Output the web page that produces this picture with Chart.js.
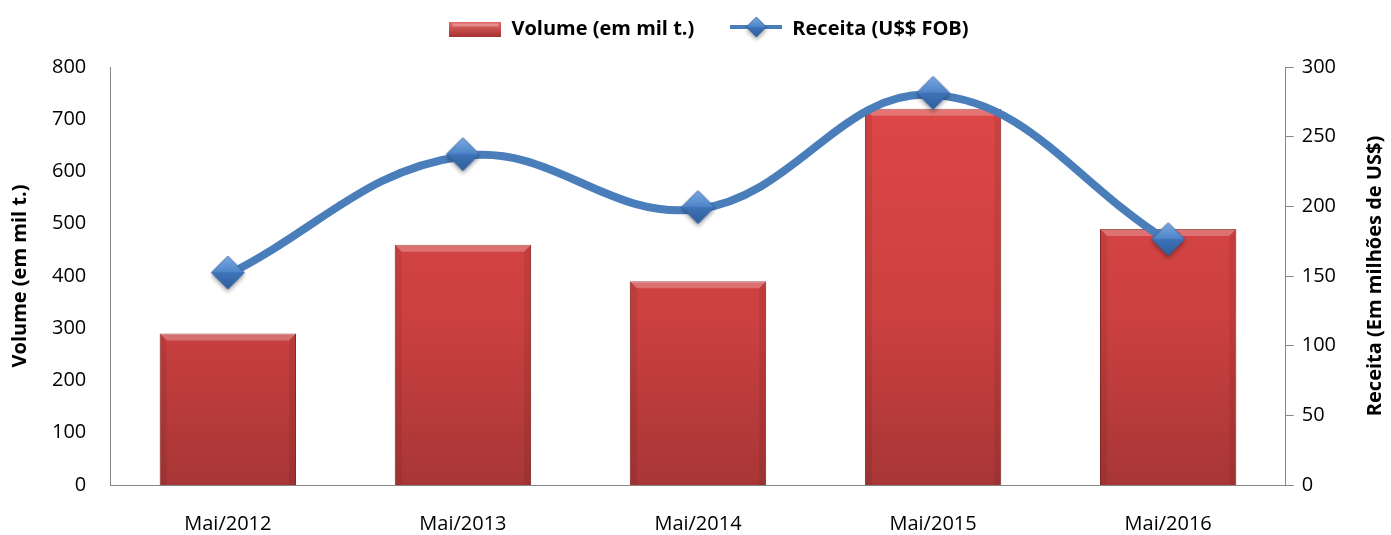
<!DOCTYPE html>
<html>
<head>
<meta charset="utf-8">
<script src="https://cdn.jsdelivr.net/npm/chart.js@4.4.1/dist/chart.umd.min.js"></script>
<style>
  html, body { margin: 0; padding: 0; background: #fff; }
  #wrap { width: 1391px; height: 535px; }
</style>
</head>
<body>
<div id="wrap"><canvas id="volChart"></canvas></div>
<script>
//
// dados do grafico
//
const labels = ["Mai/2012", "Mai/2013", "Mai/2014", "Mai/2015", "Mai/2016"];
const volumeValues = [290, 460, 390, 720, 490];
const receitaValues = [151, 236, 198, 280, 175];

const FONT = "'Open Sans', 'Liberation Sans', sans-serif";
const RIGHT_TITLE = "Receita (Em milhões de US$)";

// diamante com gradiente (marcador e legenda)
function diamond(size, withLine) {
  const w = withLine ? 52 : size + 8, h = size + 8;
  const c = document.createElement("canvas");
  c.width = w; c.height = h;
  const x = c.getContext("2d");
  const cx = w / 2, cy = size / 2 + 2, r = size / 2;
  if (withLine) {
    x.strokeStyle = "#4a7ebb";
    x.lineWidth = 4;
    x.beginPath(); x.moveTo(0, cy); x.lineTo(w, cy); x.stroke();
  }
  x.save();
  x.shadowColor = "rgba(0,0,0,0.35)";
  x.shadowBlur = 4;
  x.shadowOffsetY = 3;
  x.fillStyle = "#3d72b4";
  x.beginPath(); x.moveTo(cx, cy - r); x.lineTo(cx + r, cy); x.lineTo(cx, cy + r); x.lineTo(cx - r, cy); x.closePath();
  x.fill();
  x.restore();
  // metade de cima mais clara
  const g = x.createLinearGradient(0, cy - r, 0, cy);
  g.addColorStop(0, "#7aa9e2");
  g.addColorStop(1, "#4d84c8");
  x.fillStyle = g;
  x.beginPath(); x.moveTo(cx, cy - r); x.lineTo(cx + r, cy); x.lineTo(cx - r, cy); x.closePath(); x.fill();
  const g2 = x.createLinearGradient(0, cy, 0, cy + r);
  g2.addColorStop(0, "#3e74b8");
  g2.addColorStop(1, "#2f5e9c");
  x.fillStyle = g2;
  x.beginPath(); x.moveTo(cx - r, cy); x.lineTo(cx + r, cy); x.lineTo(cx, cy + r); x.closePath(); x.fill();
  x.strokeStyle = "rgba(40,80,140,0.6)";
  x.lineWidth = 1;
  x.beginPath(); x.moveTo(cx, cy - r); x.lineTo(cx + r, cy); x.lineTo(cx, cy + r); x.lineTo(cx - r, cy); x.closePath(); x.stroke();
  return c;
}

function barIcon() {
  const c = document.createElement("canvas");
  c.width = 52; c.height = 15;
  const x = c.getContext("2d");
  const g = x.createLinearGradient(0, 0, 0, 15);
  g.addColorStop(0, "#e86a6a");
  g.addColorStop(1, "#a83232");
  x.fillStyle = g;
  x.fillRect(0, 0, 52, 15);
  x.fillStyle = "rgba(255,255,255,0.3)";
  x.fillRect(3, 2, 46, 3);
  return c;
}
const legendIcons = [barIcon(), diamond(20, true)];
const markerIcon = diamond(33, false);

// efeito chanfrado nas barras + titulo do eixo direito
const bevelPlugin = {
  id: "bevel",
  beforeInit(chart) {
    const lg = chart.legend;
    const fit = lg.fit;
    lg.fit = function () {
      fit.bind(lg)();
      this.height += 18;
    };
    const draw = lg.draw;
    lg.draw = function () {
      chart.ctx.save();
      chart.ctx.translate(37, 0);
      draw.apply(lg, arguments);
      chart.ctx.restore();
    };
  },
  afterDatasetDraw(chart, args) {
    if (args.index !== 0) return;
    const ctx = chart.ctx;
    args.meta.data.forEach(function (bar) {
      const l = bar.x - bar.width / 2, r = bar.x + bar.width / 2, t = bar.y, b = bar.base;
      const d = 7;
      ctx.save();
      ctx.fillStyle = "rgba(255,255,255,0.25)";
      ctx.beginPath(); ctx.moveTo(l, t); ctx.lineTo(r, t); ctx.lineTo(r - d, t + d); ctx.lineTo(l + d, t + d); ctx.closePath(); ctx.fill();
      ctx.fillStyle = "rgba(0,0,0,0.07)";
      ctx.beginPath(); ctx.moveTo(l, t); ctx.lineTo(l + d, t + d); ctx.lineTo(l + d, b); ctx.lineTo(l, b); ctx.closePath(); ctx.fill();
      ctx.beginPath(); ctx.moveTo(r, t); ctx.lineTo(r - d, t + d); ctx.lineTo(r - d, b); ctx.lineTo(r, b); ctx.closePath(); ctx.fill();
      ctx.restore();
    });
  },
  afterDraw(chart) {
    const ctx = chart.ctx;
    const area = chart.chartArea;
    ctx.save();
    ctx.translate(chart.width - 16, (area.top + area.bottom) / 2);
    ctx.rotate(-Math.PI / 2);
    ctx.font = "bold 20px " + FONT;
    ctx.fillStyle = "#000";
    ctx.textAlign = "center";
    ctx.textBaseline = "middle";
    ctx.fillText(RIGHT_TITLE, 0, 0);
    ctx.restore();
  }
};

const volChart = new Chart("volChart", {
  data: {
    labels: labels,
    datasets: [{
        type: "bar",
        label: "Volume (em mil t.)",
        data: volumeValues,
        yAxisID: "y",
        order: 1,
        barPercentage: 0.58,
        categoryPercentage: 1.0,
        backgroundColor: function (c) {
          const area = c.chart.chartArea;
          if (!area) return "#d44";
          const g = c.chart.ctx.createLinearGradient(0, area.top, 0, area.bottom);
          g.addColorStop(0, "#e04848");
          g.addColorStop(0.6, "#cc4040");
          g.addColorStop(1, "#a83636");
          return g;
        },
        borderColor: "#8e2a2a",
        borderWidth: 1
      },
      {
        type: "line",
        label: "Receita (U$$ FOB)",
        data: receitaValues,
        yAxisID: "y1",
        order: 0,
        borderColor: "#4a7ebb",
        borderWidth: 8,
        tension: 0.4,
        pointStyle: markerIcon,
        pointRadius: 17,
        pointHoverRadius: 17
      }]
  },
  plugins: [bevelPlugin],
  options: {
    responsive: true,
    maintainAspectRatio: false,
    animation: false,
    layout: { padding: { left: 0, right: 47, top: -17, bottom: -28 } },
    plugins: {
      tooltip: { enabled: false },
      legend: {
        display: true,
        position: "top",
        labels: {
          usePointStyle: true,
          pointStyleWidth: 52,
          padding: 36,
          color: "#000",
          font: { family: FONT, size: 20, weight: "bold" },
          generateLabels: function (chart) {
            return chart.data.datasets.map(function (ds, i) {
              return { text: ds.label, pointStyle: legendIcons[i], datasetIndex: i, hidden: false, lineWidth: 0, fontColor: "#000" };
            });
          }
        }
      }
    },
    scales: {
      x: {
        grid: { display: false, drawTicks: false },
        border: { color: "#868686", width: 1 },
        ticks: { color: "#000", padding: 27, maxRotation: 0, font: { family: FONT, size: 20 } }
      },
      y: {
        position: "left",
        min: 0, max: 800,
        ticks: { stepSize: 100, color: "#000", padding: 24, font: { family: FONT, size: 20 } },
        grid: { display: false, drawTicks: false },
        border: { color: "#868686", width: 1 },
        title: { display: true, text: "Volume (em mil t.)", color: "#000", font: { family: FONT, size: 20, weight: "bold" }, padding: { top: 8, bottom: -4 } }
      },
      y1: {
        position: "right",
        min: 0, max: 300,
        ticks: { stepSize: 50, color: "#000", padding: 8, font: { family: FONT, size: 20 } },
        grid: { drawOnChartArea: false, drawTicks: true, tickLength: 8, color: "#868686" },
        border: { color: "#868686", width: 1 }
      }
    }
  }
});
</script>
</body>
</html>
